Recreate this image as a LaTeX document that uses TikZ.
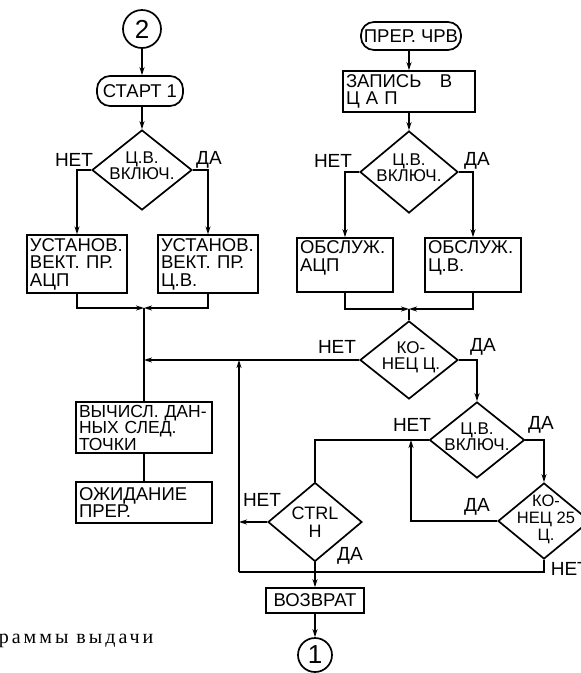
\documentclass[tikz,border=0pt]{standalone}
\usepackage{fontspec}
\setmainfont{Liberation Sans}
\newfontfamily\capfont{Liberation Serif}[LetterSpace=15]
\usetikzlibrary{shapes.geometric,arrows.meta}
\begin{document}
\begin{tikzpicture}[x=1pt,y=-1pt,
  line width=1.7pt,
  every node/.style={font=\fontsize{18.5}{17.5}\selectfont},
  box/.style={draw, rectangle, inner sep=3pt, align=left},
  term/.style={draw, rounded corners=13pt, inner sep=2pt},
  dia/.style={draw, diamond, inner sep=0pt},
  dtext/.style={align=center, inner sep=0pt, font=\fontsize{17}{16}\selectfont},
  arr/.style={-{Stealth[length=8pt,width=5pt]}},
  lbl/.style={inner sep=0pt, font=\fontsize{19}{19}\selectfont},
  conn/.style={draw, circle, inner sep=0pt, font=\fontsize{26}{26}\selectfont}
]
\useasboundingbox (0,0) rectangle (581,673);
\clip (0,0) rectangle (581,673);

% left column
\node[conn, minimum size=38pt] (c2) at (142,29) {2};
\node[term, minimum width=86pt, minimum height=30pt] (start) at (140,91) {СТАРТ 1};
\node[dia, minimum width=100pt, minimum height=80pt] (d1) at (142,170) {};
\node[dtext] (d1t) at (142,166) {Ц.В.\\ВКЛЮЧ.};
\node[lbl] (d1n) at (74,160) {НЕТ};
\node[lbl] (d1y) at (209,160) {ДА};
\node[box, text width=94pt, minimum height=56pt] (b1) at (77,264) {УСТАНОВ.\\ВЕКТ. ПР.\\АЦП};
\node[box, text width=94pt, minimum height=56pt] (b2) at (208,264) {УСТАНОВ.\\ВЕКТ. ПР.\\Ц.В.};
\coordinate (m1) at (144,308);
\coordinate (j1) at (144,360);
\node[box, text width=130pt, minimum height=51pt, font=\fontsize{17.5}{16.5}\selectfont] (calc) at (144,427.5) {ВЫЧИСЛ. ДАН-\\НЫХ СЛЕД.\\ТОЧКИ};
\node[box, text width=130pt, minimum height=41pt] (wait) at (144,502.5) {ОЖИДАНИЕ\\ПРЕР.};

% right column
\node[term, minimum width=100pt, minimum height=28pt] (pr) at (411,36) {ПРЕР. ЧРВ};
\node[box, text width=126pt, minimum height=41pt] (zap) at (409,91.5) {ЗАПИСЬ\quad В\\Ц А П};
\node[dia, minimum width=98pt, minimum height=82pt] (d2) at (409,172) {};
\node[dtext] (d2t) at (409,168) {Ц.В.\\ВКЛЮЧ.};
\node[lbl] (d2n) at (333,161) {НЕТ};
\node[lbl] (d2y) at (477,161) {ДА};
\node[box, text width=90pt, minimum height=54pt] (b3) at (345,265) {ОБСЛУЖ.\\АЦП\\~};
\node[box, text width=90pt, minimum height=54pt] (b4) at (473,265) {ОБСЛУЖ.\\Ц.В.\\~};
\coordinate (m2) at (409,309);
\node[dia, minimum width=98pt, minimum height=78pt] (d3) at (409,360) {};
\node[dtext] (d3t) at (411,357) {КО-\\НЕЦ Ц.};
\node[lbl] (d3n) at (337,347) {НЕТ};
\node[lbl] (d3y) at (483,347) {ДА};
\node[dia, minimum width=95pt, minimum height=76pt] (d4) at (477,440) {};
\node[dtext] (d4t) at (477,437) {Ц.В.\\ВКЛЮЧ.};
\node[lbl] (d4n) at (412,425) {НЕТ};
\node[lbl] (d4y) at (541,425) {ДА};
\node[dia, minimum width=92pt, minimum height=76pt] (k25) at (544,521) {};
\node[dtext, font=\fontsize{16.5}{17}\selectfont] (k25t) at (546,519) {КО-\\НЕЦ 25\\Ц.};
\node[lbl] (k25y) at (477,507) {ДА};
\node[lbl, anchor=west] (k25n) at (550,569) {НЕТ};
\node[dia, minimum width=94pt, minimum height=79pt] (ctrl) at (315,522) {};
\node[dtext, font=\fontsize{18}{18}\selectfont] (ctrlt) at (315,522) {CTRL\\H};
\node[lbl] (ctrln) at (262,500) {НЕТ};
\node[lbl] (ctrly) at (350,556) {ДА};
\coordinate (j2) at (411,440);
\coordinate (j3) at (239,360);
\coordinate (lb) at (239,572);
\node[box, align=center, minimum width=98pt, minimum height=25pt, inner sep=2pt] (ret) at (315,600.5) {ВОЗВРАТ};
\node[conn, minimum size=34pt] (c1) at (315,655) {1};

\node[anchor=west, inner sep=0pt, font=\capfont\fontsize{20}{20}\selectfont] (cap) at (-2,641) {раммы выдачи};

% connectors left
\draw[arr] (c2.south) -- (c2.south |- start.north);
\draw[arr] (start.south -| d1.north) -- (d1.north);
\draw[arr] (d1.west) -| (b1.north);
\draw[arr] (d1.east) -| (b2.north);
\draw[arr] (b1.south) |- (m1);
\draw[arr] (b2.south) |- (m1);
\draw (m1) -- (calc.north);
\draw (calc.south) -- (wait.north);
\draw[arr] (d3.west) -- (j1);
% connectors right
\draw[arr] (pr.south -| zap.north) -- (zap.north);
\draw[arr] (zap.south -| d2.north) -- (d2.north);
\draw[arr] (d2.west) -| (b3.north);
\draw[arr] (d2.east) -| (b4.north);
\draw[arr] (b3.south) |- (m2);
\draw[arr] (b4.south) |- (m2);
\draw (m2) -- (d3.north);
\draw[arr] (d3.east) -| (d4.north);
\draw (d4.west) -| (ctrl.north);
\draw[arr] (d4.east) -| (k25.north);
\draw[arr] (k25.west) -| (j2);
\draw (k25.south) |- (lb);
\draw[arr] (lb) -- (j3);
\draw[arr] (ctrl.west) -- (ctrl.west -| lb);
\draw[arr] (ctrl.south) -- (ret.north);
\draw[arr] (ret.south) -- (c1.north);
\end{tikzpicture}
\end{document}
